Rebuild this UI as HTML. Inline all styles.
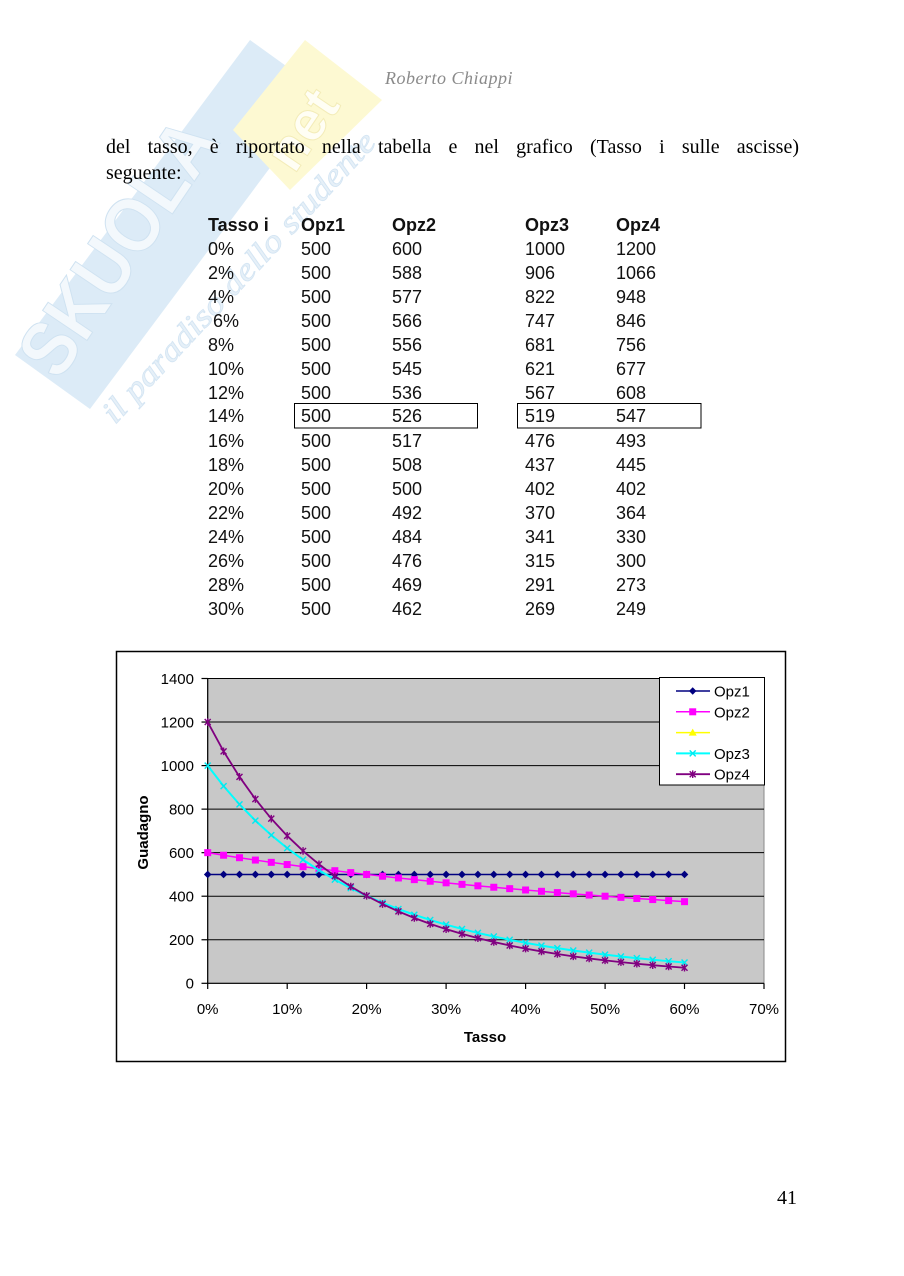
<!DOCTYPE html>
<html>
<head>
<meta charset="utf-8">
<style>
  html,body{margin:0;padding:0;background:#fff;}
  body{width:904px;height:1276px;position:relative;overflow:hidden;}
  .abs{position:absolute;}
  .para{left:106px;width:693px;font-family:"Liberation Serif",serif;font-size:20px;line-height:26px;color:#000;}
</style>
</head>
<body>
<svg class="abs" style="left:0;top:0" width="904" height="1276" viewBox="0 0 904 1276" xmlns="http://www.w3.org/2000/svg">
  <defs>
    <marker id="mD" markerUnits="userSpaceOnUse" markerWidth="10" markerHeight="10" refX="5" refY="5" viewBox="0 0 10 10">
      <path d="M5,1.2 L8.8,5 L5,8.8 L1.2,5 Z" fill="#000080"/>
    </marker>
    <marker id="mS" markerUnits="userSpaceOnUse" markerWidth="10" markerHeight="10" refX="5" refY="5" viewBox="0 0 10 10">
      <rect x="1.5" y="1.5" width="7" height="7" fill="#ff00ff"/>
    </marker>
    <marker id="mX" markerUnits="userSpaceOnUse" markerWidth="10" markerHeight="10" refX="5" refY="5" viewBox="0 0 10 10">
      <path d="M2,2 L8,8 M2,8 L8,2" stroke="#00e8f0" stroke-width="1.4" fill="none"/>
    </marker>
    <marker id="mA" markerUnits="userSpaceOnUse" markerWidth="10" markerHeight="10" refX="5" refY="5" viewBox="0 0 10 10">
      <path d="M2,2 L8,8 M2,8 L8,2 M5,1.2 L5,8.8" stroke="#800080" stroke-width="1.4" fill="none"/>
    </marker>
  </defs>

  <!-- watermark -->
  <g>
    <polygon points="15,355 250,40 325,94 90,409" fill="#dcebf7"/>
    <polygon points="305,40 382,100 290,190 233,130" fill="#fdf9d2"/>
    <text x="0" y="0" transform="translate(140,262) rotate(-56)" text-anchor="middle" font-family="Liberation Sans, sans-serif" font-weight="bold" font-size="78" fill="#f3f8fc" stroke="#cfe2f1" stroke-width="1" textLength="290" lengthAdjust="spacingAndGlyphs">SKUOLA</text>
    <text x="0" y="0" transform="translate(318,140) rotate(-56)" text-anchor="middle" font-family="Liberation Sans, sans-serif" font-weight="bold" font-size="56" fill="#fffef4" stroke="#f3ecb8" stroke-width="1">net</text>
    <text x="0" y="0" transform="translate(115,425) rotate(-47)" font-family="Liberation Serif, serif" font-style="italic" font-size="32" fill="#e6f0f8" stroke="#d4e5f3" stroke-width="0.8" textLength="385" lengthAdjust="spacingAndGlyphs">il paradiso dello studente</text>
  </g>

  <!-- header -->
  <text x="449" y="84" text-anchor="middle" font-family="Liberation Serif, serif" font-style="italic" font-size="18" letter-spacing="0.5" fill="#8a8a8a">Roberto Chiappi</text>

  <!-- table -->
  <g font-family="Liberation Sans, sans-serif" font-size="18" fill="#111">
    <g font-weight="bold">
      <text x="208" y="231">Tasso i</text>
      <text x="301" y="231">Opz1</text>
      <text x="392" y="231">Opz2</text>
      <text x="525" y="231">Opz3</text>
      <text x="616" y="231">Opz4</text>
    </g>
    <g>
      <text x="208" y="255">0%</text><text x="301" y="255">500</text><text x="392" y="255">600</text><text x="525" y="255">1000</text><text x="616" y="255">1200</text>
      <text x="208" y="279">2%</text><text x="301" y="279">500</text><text x="392" y="279">588</text><text x="525" y="279">906</text><text x="616" y="279">1066</text>
      <text x="208" y="303">4%</text><text x="301" y="303">500</text><text x="392" y="303">577</text><text x="525" y="303">822</text><text x="616" y="303">948</text>
      <text x="213" y="327">6%</text><text x="301" y="327">500</text><text x="392" y="327">566</text><text x="525" y="327">747</text><text x="616" y="327">846</text>
      <text x="208" y="351">8%</text><text x="301" y="351">500</text><text x="392" y="351">556</text><text x="525" y="351">681</text><text x="616" y="351">756</text>
      <text x="208" y="375">10%</text><text x="301" y="375">500</text><text x="392" y="375">545</text><text x="525" y="375">621</text><text x="616" y="375">677</text>
      <text x="208" y="399">12%</text><text x="301" y="399">500</text><text x="392" y="399">536</text><text x="525" y="399">567</text><text x="616" y="399">608</text>
      <text x="208" y="422">14%</text><text x="301" y="422">500</text><text x="392" y="422">526</text><text x="525" y="422">519</text><text x="616" y="422">547</text>
      <text x="208" y="447">16%</text><text x="301" y="447">500</text><text x="392" y="447">517</text><text x="525" y="447">476</text><text x="616" y="447">493</text>
      <text x="208" y="471">18%</text><text x="301" y="471">500</text><text x="392" y="471">508</text><text x="525" y="471">437</text><text x="616" y="471">445</text>
      <text x="208" y="495">20%</text><text x="301" y="495">500</text><text x="392" y="495">500</text><text x="525" y="495">402</text><text x="616" y="495">402</text>
      <text x="208" y="519">22%</text><text x="301" y="519">500</text><text x="392" y="519">492</text><text x="525" y="519">370</text><text x="616" y="519">364</text>
      <text x="208" y="543">24%</text><text x="301" y="543">500</text><text x="392" y="543">484</text><text x="525" y="543">341</text><text x="616" y="543">330</text>
      <text x="208" y="567">26%</text><text x="301" y="567">500</text><text x="392" y="567">476</text><text x="525" y="567">315</text><text x="616" y="567">300</text>
      <text x="208" y="591">28%</text><text x="301" y="591">500</text><text x="392" y="591">469</text><text x="525" y="591">291</text><text x="616" y="591">273</text>
      <text x="208" y="615">30%</text><text x="301" y="615">500</text><text x="392" y="615">462</text><text x="525" y="615">269</text><text x="616" y="615">249</text>
    </g>
  </g>
  <rect x="294.5" y="403.5" width="183" height="24.5" fill="none" stroke="#000" stroke-width="1"/>
  <rect x="517.5" y="403.5" width="183.5" height="24.5" fill="none" stroke="#000" stroke-width="1"/>

  <!-- chart frame -->
  <rect x="116.5" y="651.5" width="669" height="410" fill="#fff" stroke="#000" stroke-width="1.5"/>
  <!-- plot area -->
  <rect x="207.7" y="678.5" width="556.3" height="304.8" fill="#c8c8c8" stroke="#8a8a8a" stroke-width="1"/>
  <!-- gridlines -->
  <g stroke="#000" stroke-width="1">
    <line x1="207.7" y1="678.5" x2="764" y2="678.5"/>
    <line x1="207.7" y1="722.04" x2="764" y2="722.04"/>
    <line x1="207.7" y1="765.59" x2="764" y2="765.59"/>
    <line x1="207.7" y1="809.13" x2="764" y2="809.13"/>
    <line x1="207.7" y1="852.67" x2="764" y2="852.67"/>
    <line x1="207.7" y1="896.21" x2="764" y2="896.21"/>
    <line x1="207.7" y1="939.76" x2="764" y2="939.76"/>
  </g>
  <!-- axes -->
  <g stroke="#000" stroke-width="1.2">
    <line x1="207.7" y1="678" x2="207.7" y2="983.8"/>
    <line x1="207.2" y1="983.3" x2="764" y2="983.3"/>
    <line x1="201.5" y1="678.5" x2="207.7" y2="678.5"/>
    <line x1="201.5" y1="722.04" x2="207.7" y2="722.04"/>
    <line x1="201.5" y1="765.59" x2="207.7" y2="765.59"/>
    <line x1="201.5" y1="809.13" x2="207.7" y2="809.13"/>
    <line x1="201.5" y1="852.67" x2="207.7" y2="852.67"/>
    <line x1="201.5" y1="896.21" x2="207.7" y2="896.21"/>
    <line x1="201.5" y1="939.76" x2="207.7" y2="939.76"/>
    <line x1="201.5" y1="983.3" x2="207.7" y2="983.3"/>
    <line x1="207.7" y1="983.3" x2="207.7" y2="989"/>
    <line x1="287.2" y1="983.3" x2="287.2" y2="989"/>
    <line x1="366.6" y1="983.3" x2="366.6" y2="989"/>
    <line x1="446.1" y1="983.3" x2="446.1" y2="989"/>
    <line x1="525.6" y1="983.3" x2="525.6" y2="989"/>
    <line x1="605.1" y1="983.3" x2="605.1" y2="989"/>
    <line x1="684.5" y1="983.3" x2="684.5" y2="989"/>
    <line x1="764" y1="983.3" x2="764" y2="989"/>
  </g>
  <!-- tick labels -->
  <g font-family="Liberation Sans, sans-serif" font-size="15" fill="#000">
    <g text-anchor="end">
      <text x="194" y="683.9">1400</text>
      <text x="194" y="727.4">1200</text>
      <text x="194" y="771">1000</text>
      <text x="194" y="814.5">800</text>
      <text x="194" y="858">600</text>
      <text x="194" y="901.6">400</text>
      <text x="194" y="945.1">200</text>
      <text x="194" y="988.7">0</text>
    </g>
    <g text-anchor="middle">
      <text x="207.7" y="1014">0%</text>
      <text x="287.2" y="1014">10%</text>
      <text x="366.6" y="1014">20%</text>
      <text x="446.1" y="1014">30%</text>
      <text x="525.6" y="1014">40%</text>
      <text x="605.1" y="1014">50%</text>
      <text x="684.5" y="1014">60%</text>
      <text x="764" y="1014">70%</text>
    </g>
    <text x="485" y="1042" text-anchor="middle" font-weight="bold">Tasso</text>
    <text x="0" y="0" transform="translate(148,832.5) rotate(-90)" text-anchor="middle" font-weight="bold">Guadagno</text>
  </g>

  <!-- series -->
  <polyline fill="none" stroke="#000080" stroke-width="1.5" marker-start="url(#mD)" marker-mid="url(#mD)" marker-end="url(#mD)"
    points="207.70,874.44 223.59,874.44 239.49,874.44 255.38,874.44 271.28,874.44 287.17,874.44 303.06,874.44 318.96,874.44 334.85,874.44 350.75,874.44 366.64,874.44 382.53,874.44 398.43,874.44 414.32,874.44 430.22,874.44 446.11,874.44 462.00,874.44 477.90,874.44 493.79,874.44 509.69,874.44 525.58,874.44 541.47,874.44 557.37,874.44 573.26,874.44 589.16,874.44 605.05,874.44 620.94,874.44 636.84,874.44 652.73,874.44 668.63,874.44 684.52,874.44"/>
  <polyline fill="none" stroke="#ff00ff" stroke-width="1.5" marker-start="url(#mS)" marker-mid="url(#mS)" marker-end="url(#mS)"
    points="207.70,852.67 223.59,855.23 239.49,857.70 255.38,860.07 271.28,862.35 287.17,864.55 303.06,866.67 318.96,868.71 334.85,870.69 350.75,872.60 366.64,874.44 382.53,876.23 398.43,877.96 414.32,879.63 430.22,881.25 446.11,882.82 462.00,884.34 477.90,885.82 493.79,887.25 509.69,888.64 525.58,889.99 541.47,891.31 557.37,892.59 573.26,893.83 589.16,895.04 605.05,896.21 620.94,897.36 636.84,898.48 652.73,899.56 668.63,900.62 684.52,901.66"/>
  <polyline fill="none" stroke="#00ffff" stroke-width="2" marker-start="url(#mX)" marker-mid="url(#mX)" marker-end="url(#mX)"
    points="207.70,765.59 223.59,786.11 239.49,804.35 255.38,820.61 271.28,835.13 287.17,848.12 303.06,859.76 318.96,870.23 334.85,879.64 350.75,888.13 366.64,895.80 382.53,902.75 398.43,909.04 414.32,914.75 430.22,919.94 446.11,924.66 462.00,928.97 477.90,932.91 493.79,936.51 509.69,939.80 525.58,942.82 541.47,945.59 557.37,948.14 573.26,950.48 589.16,952.64 605.05,954.63 620.94,956.47 636.84,958.16 652.73,959.73 668.63,961.19 684.52,962.54"/>
  <polyline fill="none" stroke="#800080" stroke-width="1.8" marker-start="url(#mA)" marker-mid="url(#mA)" marker-end="url(#mA)"
    points="207.70,722.04 223.59,751.32 239.49,776.83 255.38,799.13 271.28,818.66 287.17,835.83 303.06,850.94 318.96,864.27 334.85,876.07 350.75,886.52 366.64,895.80 382.53,904.07 398.43,911.43 414.32,918.01 430.22,923.90 446.11,929.17 462.00,933.91 477.90,938.17 493.79,942.01 509.69,945.47 525.58,948.60 541.47,951.43 557.37,954.00 573.26,956.33 589.16,958.44 605.05,960.36 620.94,962.12 636.84,963.71 652.73,965.17 668.63,966.51 684.52,967.73"/>

  <!-- legend -->
  <rect x="659.5" y="677.5" width="105" height="107.5" fill="#fff" stroke="#000" stroke-width="1"/>
  <g stroke-width="1.5">
    <line x1="676" y1="691" x2="710" y2="691" stroke="#000080"/>
    <path d="M692.7,687.3 L696.4,691 L692.7,694.7 L689,691 Z" fill="#000080"/>
    <line x1="676" y1="711.8" x2="710" y2="711.8" stroke="#ff00ff"/>
    <rect x="689.2" y="708.3" width="7" height="7" fill="#ff00ff"/>
    <line x1="676" y1="732.6" x2="710" y2="732.6" stroke="#ffff00"/>
    <path d="M692.7,728.6 L696.7,735.6 L688.7,735.6 Z" fill="#ffff00"/>
    <line x1="676" y1="753.4" x2="710" y2="753.4" stroke="#00ffff" stroke-width="2"/>
    <path d="M689.7,750.4 L695.7,756.4 M689.7,756.4 L695.7,750.4" stroke="#00e8f0" stroke-width="1.4"/>
    <line x1="676" y1="774.2" x2="710" y2="774.2" stroke="#800080" stroke-width="1.8"/>
    <path d="M689.7,771.2 L695.7,777.2 M689.7,777.2 L695.7,771.2 M692.7,770.4 L692.7,778" stroke="#800080" stroke-width="1.4"/>
  </g>
  <g font-family="Liberation Sans, sans-serif" font-size="15" fill="#000">
    <text x="714" y="696.5">Opz1</text>
    <text x="714" y="717.3">Opz2</text>
    <text x="714" y="758.9">Opz3</text>
    <text x="714" y="779.7">Opz4</text>
  </g>

  <!-- page number -->
  <text x="797" y="1204" text-anchor="end" font-family="Liberation Serif, serif" font-size="20" fill="#000">41</text>
</svg>

<div class="abs para" style="top:134px;text-align:justify;text-align-last:justify;">del tasso, è riportato nella tabella e nel grafico (Tasso i sulle ascisse)</div>
<div class="abs para" style="top:160px;">seguente:</div>
</body>
</html>
